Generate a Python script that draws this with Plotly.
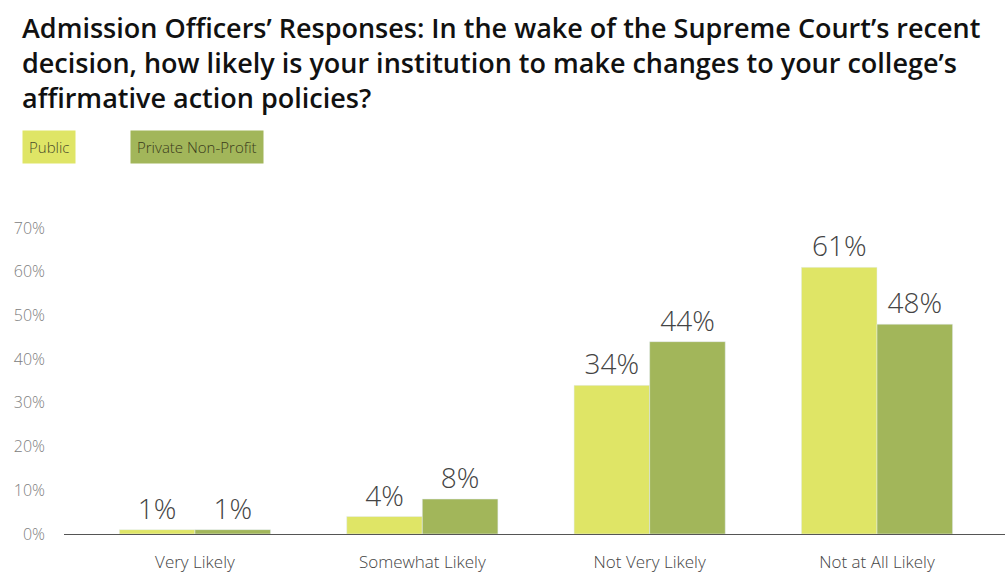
import plotly.graph_objects as go

categories = ["Very Likely", "Somewhat Likely", "Not Very Likely", "Not at All Likely"]
public_vals = [1, 4, 34, 61]
private_vals = [1, 8, 44, 48]
public_labels = ["1%", "4%", "34%", "61%"]
private_labels = ["1%", "8%", "44%", "48%"]
y_ticks = [0, 10, 20, 30, 40, 50, 60, 70]
y_ticklabels = ["0%", "10%", "20%", "30%", "40%", "50%", "60%", "70%"]

PUBLIC_C = "#dfe566"
PRIVATE_C = "#a2b65a"
FONT = "Open Sans"

fig = go.Figure()
for vals, labels, name, col in [
    (public_vals, public_labels, "Public", PUBLIC_C),
    (private_vals, private_labels, "Private Non-Profit", PRIVATE_C),
]:
    fig.add_trace(go.Bar(
        x=categories, y=vals, name=name, marker_color=col,
        text=labels, textposition="outside", cliponaxis=False,
        textfont=dict(family=FONT, size=28, color="#444444", weight=300),
    ))

fig.update_layout(
    width=1005, height=573,
    margin=dict(l=64, r=0, t=228, b=39),
    paper_bgcolor="white", plot_bgcolor="white",
    barmode="group", bargap=0.335, bargroupgap=0,
    showlegend=False,
    font=dict(family=FONT, color="#555555"),
    xaxis=dict(
        range=[-0.576, 3.563], showgrid=False, showline=False, zeroline=False,
        ticks="", tickfont=dict(family=FONT, size=17, color="#444444", weight=300),
        ticklabelstandoff=16,
    ),
    yaxis=dict(
        range=[0, 70], tickvals=y_ticks, ticktext=y_ticklabels,
        showgrid=False, zeroline=True, zerolinecolor="#555555", zerolinewidth=1.2,
        showline=False, ticks="",
        tickfont=dict(family=FONT, size=16, color="#808080", weight=300),
        ticklabelstandoff=18,
    ),
)

title_lines = [
    "Admission Officers\u2019 Responses: In the wake of the Supreme Court\u2019s recent",
    "decision, how likely is your institution to make changes to your college\u2019s",
    "affirmative action policies?",
]
fig.add_annotation(
    text="<br>".join(title_lines), xref="paper", yref="paper",
    x=(22 - 64) / 941, y=(573 - 63 - 39) / 306,
    xanchor="left", yanchor="middle", align="left", showarrow=False, xshift=-2,
    font=dict(family=FONT, size=27, color="#111111", weight=600),
)

# legend boxes
fig.add_annotation(
    text="Public", xref="paper", yref="paper",
    x=(22 - 64) / 941, y=(573 - 147 - 39) / 306, xanchor="left", yanchor="middle",
    showarrow=False, bgcolor=PUBLIC_C, borderpad=6,
    font=dict(family=FONT, size=15, color="#4a4a2a", weight=300),
)
fig.add_annotation(
    text="Private Non-Profit", xref="paper", yref="paper",
    x=(130 - 64) / 941, y=(573 - 147 - 39) / 306, xanchor="left", yanchor="middle",
    showarrow=False, bgcolor=PRIVATE_C, borderpad=6,
    font=dict(family=FONT, size=15, color="#3a3a1a", weight=300),
)

fig.write_html("out.html")
